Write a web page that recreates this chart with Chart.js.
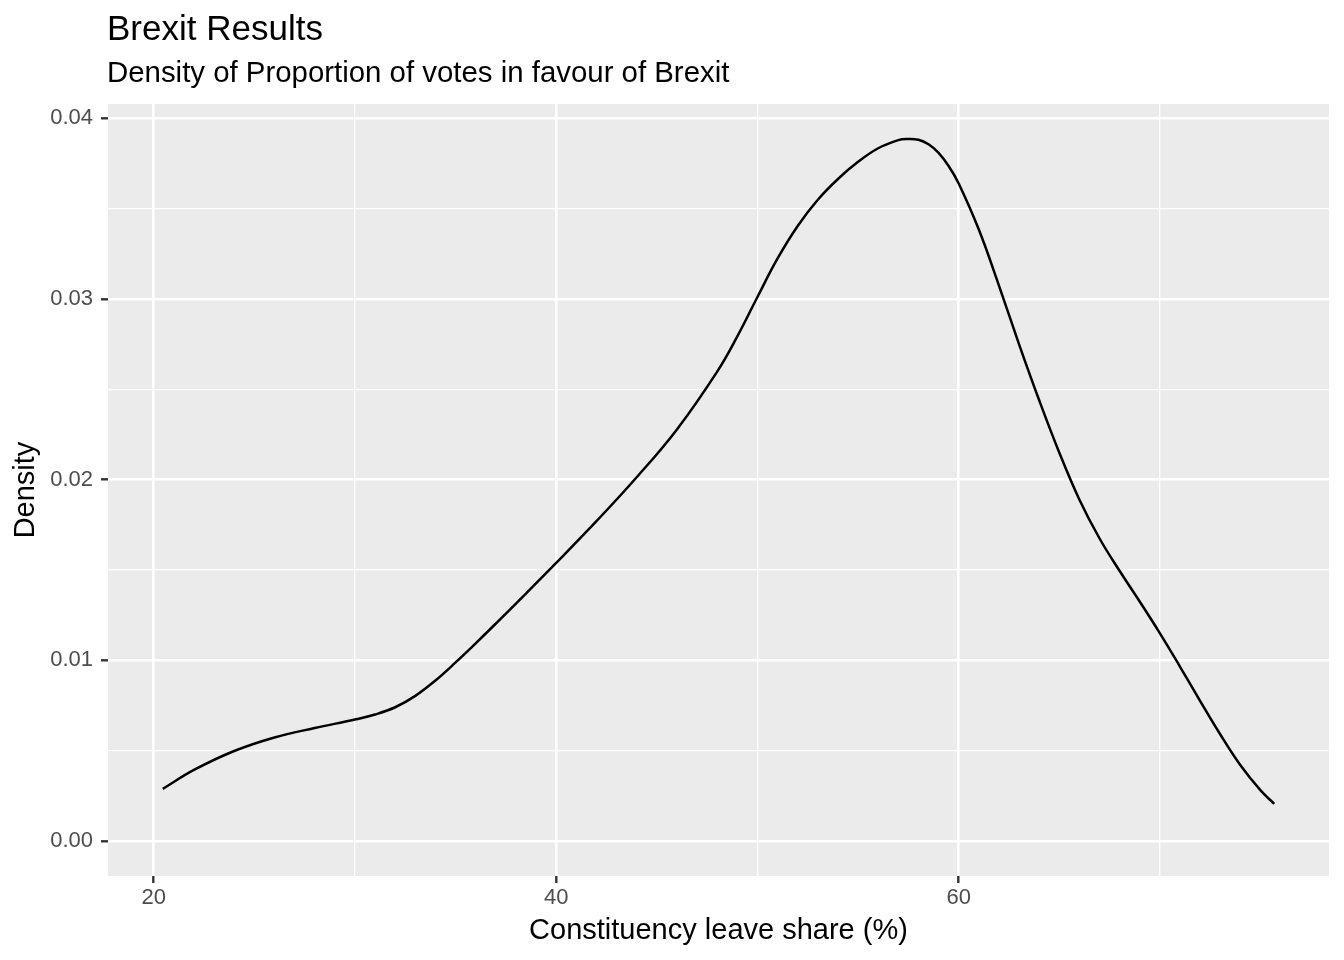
<!DOCTYPE html>
<html>
<head>
<meta charset="utf-8">
<title>Brexit Results</title>
<script src="https://cdn.jsdelivr.net/npm/chart.js@4/dist/chart.umd.min.js"></script>
<style>
  html, body { margin: 0; padding: 0; background: #fff; }
  canvas { display: block; }
</style>
</head>
<body>
<canvas id="myChart" width="1344" height="960"></canvas>
<script>
// values
const leaveShare = [20.45, 22, 24, 26, 28, 30, 31, 32, 33, 34, 35, 36, 37, 38, 40, 42, 44, 46, 48, 49,
    50, 51, 52, 53, 54, 55, 56, 57, 57.4, 58, 58.5, 59, 59.5, 60, 61, 62, 63, 64, 65, 66,
    67, 68, 69, 70, 71, 72, 73, 74, 75, 75.68];
const density = [0.00288, 0.00393, 0.00498, 0.00573, 0.00625, 0.00672, 0.00700, 0.00740, 0.00803, 0.00888, 0.00988, 0.01094, 0.01203, 0.01314, 0.01539, 0.0177, 0.02013, 0.02278, 0.02598, 0.02793,
    0.03011, 0.03224, 0.03404, 0.03549, 0.03664, 0.03759, 0.03834, 0.03879, 0.03885, 0.03881, 0.03856, 0.03809, 0.03736, 0.03639, 0.03384, 0.03074, 0.02749, 0.02439, 0.02149, 0.01889,
    0.01674, 0.01494, 0.01324, 0.01149, 0.00964, 0.00774, 0.00589, 0.00419, 0.0028, 0.00205];

const xGrid = [20, 30, 40, 50, 60, 70];
const xTickLabels = ['20', '40', '60'];
const yGrid = [0, 0.005, 0.01, 0.015, 0.02, 0.025, 0.03, 0.035, 0.04];
const yTickLabels = ['0.00', '0.01', '0.02', '0.03', '0.04'];

const FONT = '"Liberation Sans", Arial, Helvetica, sans-serif';

function isMajorX(v) { return xTickLabels.includes(String(v)); }
function isMajorY(v) { return yTickLabels.includes(v.toFixed(2)) && Math.abs(v * 100 - Math.round(v * 100)) < 1e-9; }

const ggTheme = {
    id: 'ggTheme',
    beforeDraw(chart) {
        const {ctx, chartArea: a} = chart;
        ctx.save();
        ctx.fillStyle = '#ffffff';
        ctx.fillRect(0, 0, chart.width, chart.height);
        ctx.fillStyle = '#EBEBEB';
        ctx.fillRect(a.left, a.top, a.right - a.left, a.bottom - a.top);
        ctx.restore();
    },
    afterDraw(chart) {
        const {ctx, chartArea: a} = chart;
        ctx.save();
        ctx.fillStyle = '#000000';
        ctx.textAlign = 'left';
        ctx.textBaseline = 'alphabetic';
        ctx.font = '35px ' + FONT;
        ctx.fillText('Brexit Results', a.left - 1, 40);
        ctx.font = '29.4px ' + FONT;
        ctx.fillText('Density of Proportion of votes in favour of Brexit', a.left - 1, 82);
        ctx.restore();
    }
};

const data = {
    datasets: [{
        label: 'density',
        data: leaveShare.map((x, i) => ({x: x, y: density[i]})),
        borderColor: '#000000',
        borderWidth: 2.5,
        pointRadius: 0,
        fill: false,
        tension: 0.4
    }]
};

const config = {
    type: 'line',
    data: data,
    options: {
        responsive: false,
        animation: false,
        layout: {padding: {top: 104, right: 15, bottom: 0, left: 0}},
        plugins: {
            legend: {display: false},
            tooltip: {enabled: false}
        },
        scales: {
            x: {
                type: 'linear',
                min: 17.73,
                max: 78.40,
                afterBuildTicks: s => { s.ticks = xGrid.map(v => ({value: v})); },
                afterFit: s => { s.height = 84; },
                border: {display: false},
                grid: {
                    color: '#ffffff',
                    lineWidth: c => isMajorX(c.tick.value) ? 2.6 : 1.3,
                    drawTicks: true,
                    tickLength: 7,
                    tickWidth: 2.4,
                    tickColor: c => isMajorX(c.tick.value) ? '#333333' : 'rgba(0,0,0,0)'
                },
                ticks: {
                    autoSkip: false,
                    maxRotation: 0,
                    padding: 2,
                    color: '#4D4D4D',
                    font: {family: FONT, size: 22},
                    callback: v => isMajorX(v) ? String(v) : ''
                },
                title: {
                    display: true,
                    text: 'Constituency leave share (%)',
                    color: '#000000',
                    font: {family: FONT, size: 29},
                    padding: {top: 0, bottom: 12}
                }
            },
            y: {
                type: 'linear',
                min: -0.00194,
                max: 0.04079,
                afterBuildTicks: s => { s.ticks = yGrid.map(v => ({value: v})); },
                afterFit: s => { s.width = 108; },
                border: {display: false},
                grid: {
                    color: '#ffffff',
                    lineWidth: c => isMajorY(c.tick.value) ? 2.6 : 1.3,
                    drawTicks: true,
                    tickLength: 7,
                    tickWidth: 2.4,
                    tickColor: c => isMajorY(c.tick.value) ? '#333333' : 'rgba(0,0,0,0)'
                },
                ticks: {
                    autoSkip: false,
                    padding: 8,
                    color: '#4D4D4D',
                    font: {family: FONT, size: 22},
                    callback: v => isMajorY(v) ? v.toFixed(2) : ''
                },
                title: {
                    display: true,
                    text: 'Density',
                    color: '#000000',
                    font: {family: FONT, size: 29},
                    padding: {top: 9, bottom: 0}
                }
            }
        }
    },
    plugins: [ggTheme]
};

const myChart = new Chart(
    document.getElementById('myChart'),
    config
);
</script>
</body>
</html>
